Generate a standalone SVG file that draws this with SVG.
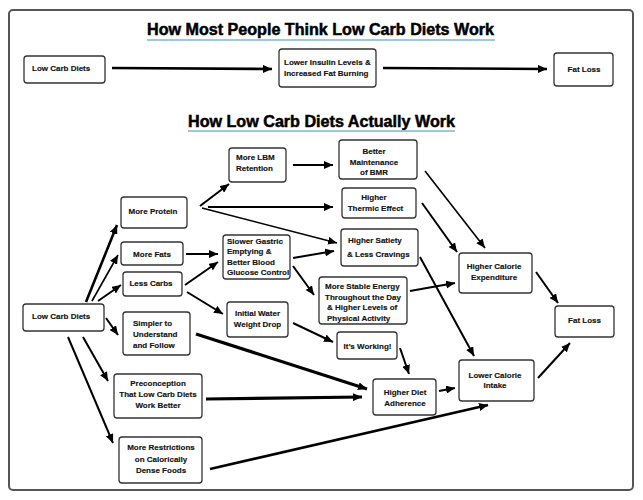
<svg xmlns="http://www.w3.org/2000/svg" width="643" height="500" viewBox="0 0 643 500">
<style>
.bx{fill:#fff;stroke:#333;stroke-width:1.3}
.t{font-family:"Liberation Sans",Arial,sans-serif;font-weight:bold;font-size:8px;fill:#111;stroke:#111;stroke-width:0.15}
.c{text-anchor:middle}
.h{font-family:"Liberation Sans",Arial,sans-serif;font-weight:bold;font-size:16px;fill:#000;stroke:#000;stroke-width:0.5}
.ul{stroke:#7fb5c9;stroke-width:1.5}
#conn line{stroke:#000;stroke-width:2;marker-end:url(#ah)}
#conn line.k{stroke-width:2.6}
#conn line.kk{stroke-width:3.2}
#conn line.n{stroke-width:1.6}
</style>
<defs>
<marker id="ah" markerUnits="userSpaceOnUse" markerWidth="10" markerHeight="8" refX="9" refY="4" orient="auto">
<path d="M0,0 L9,4 L0,8 Z" fill="#000"/>
</marker>
</defs>
<rect x="0" y="0" width="643" height="500" fill="#fff"/>
<rect x="9" y="10" width="624" height="480" rx="4" fill="#fff" stroke="#555" stroke-width="2"/>

<text class="h" x="147" y="35" textLength="347" lengthAdjust="spacingAndGlyphs">How Most People Think Low Carb Diets Work</text>
<line class="ul" x1="147" y1="40" x2="495" y2="40"/>
<text class="h" x="188" y="127" textLength="267" lengthAdjust="spacingAndGlyphs">How Low Carb Diets Actually Work</text>
<line class="ul" x1="188" y1="131" x2="455" y2="131"/>

<g id="conn">
<line class="k" x1="112" y1="68" x2="272" y2="69"/>
<line class="k" x1="383" y1="68" x2="547" y2="69"/>
<line class="k" x1="86" y1="302" x2="117" y2="225"/>
<line class="n" x1="92" y1="301" x2="118" y2="255"/>
<line x1="98" y1="301" x2="121" y2="285"/>
<line x1="106" y1="318" x2="118" y2="335"/>
<line x1="83" y1="337" x2="108" y2="381"/>
<line x1="68" y1="337" x2="113" y2="443"/>
<line x1="200" y1="206" x2="229" y2="184"/>
<line x1="208" y1="207" x2="333" y2="207"/>
<line class="n" x1="202" y1="208" x2="337" y2="243"/>
<line x1="186" y1="254" x2="218" y2="254"/>
<line x1="185" y1="285" x2="218" y2="262"/>
<line x1="187" y1="292" x2="223" y2="314"/>
<line x1="293" y1="165" x2="333" y2="165"/>
<line x1="293" y1="258" x2="334" y2="251"/>
<line x1="293" y1="266" x2="314" y2="295"/>
<line class="n" x1="425" y1="171" x2="485" y2="248"/>
<line x1="422" y1="203" x2="457" y2="252"/>
<line x1="420" y1="257" x2="474" y2="356"/>
<line x1="410" y1="291" x2="455" y2="283"/>
<line x1="536" y1="272" x2="558" y2="303"/>
<line x1="293" y1="323" x2="333" y2="342"/>
<line x1="400" y1="348" x2="409" y2="374"/>
<line class="kk" x1="196" y1="334" x2="367" y2="389"/>
<line class="kk" x1="206" y1="399" x2="362" y2="397"/>
<line class="k" x1="210" y1="469" x2="488" y2="405"/>
<line x1="439" y1="391" x2="455" y2="388"/>
<line x1="538" y1="378" x2="570" y2="343"/>
</g>

<g id="top-lcd"><rect class="bx" x="24" y="56" width="81" height="27" rx="3"/><text class="t" x="32" y="71">Low Carb Diets</text></g>
<g id="top-insulin"><rect class="bx" x="279" y="49" width="97" height="38" rx="3"/><text class="t" x="284" y="65">Lower Insulin Levels &amp;</text><text class="t" x="284" y="76">Increased Fat Burning</text></g>
<g id="top-fatloss"><rect class="bx" x="554" y="53" width="59" height="33" rx="3"/><text class="t c" x="584" y="72">Fat Loss</text></g>

<g id="lcd"><rect class="bx" x="23" y="304" width="81" height="27" rx="3"/><text class="t" x="32" y="319">Low Carb Diets</text></g>
<g id="protein"><rect class="bx" x="121" y="197" width="66" height="31" rx="3"/><text class="t c" x="153" y="214">More Protein</text></g>
<g id="fats"><rect class="bx" x="121" y="242" width="62" height="23" rx="3"/><text class="t c" x="152" y="257">More Fats</text></g>
<g id="carbs"><rect class="bx" x="123" y="272" width="59" height="24" rx="3"/><text class="t c" x="151" y="286">Less Carbs</text></g>
<g id="simpler"><rect class="bx" x="123" y="312" width="67" height="43" rx="3"/><text class="t" x="133" y="326">Simpler to</text><text class="t" x="133" y="337">Understand</text><text class="t" x="133" y="348">and Follow</text></g>
<g id="preconception"><rect class="bx" x="114" y="374" width="88" height="44" rx="3"/><text class="t c" x="158" y="386">Preconception</text><text class="t c" x="158" y="397">That Low Carb Diets</text><text class="t c" x="158" y="408">Work Better</text></g>
<g id="restrictions"><rect class="bx" x="119" y="437" width="83" height="46" rx="3"/><text class="t c" x="161" y="450">More Restrictions</text><text class="t c" x="161" y="462">on Calorically</text><text class="t c" x="161" y="473">Dense Foods</text></g>
<g id="lbm"><rect class="bx" x="229" y="148" width="57" height="34" rx="3"/><text class="t" x="236" y="160">More LBM</text><text class="t" x="236" y="171">Retention</text></g>
<g id="gastric"><rect class="bx" x="223" y="235" width="67" height="44" rx="3"/><text class="t" x="227" y="243.5">Slower Gastric</text><text class="t" x="227" y="254">Emptying &amp;</text><text class="t" x="227" y="264.5">Better Blood</text><text class="t" x="227" y="275">Glucose Control</text></g>
<g id="water"><rect class="bx" x="227" y="302" width="61" height="35" rx="3"/><text class="t c" x="257.5" y="316">Initial Water</text><text class="t c" x="257.5" y="326.5">Weight Drop</text></g>
<g id="bmr"><rect class="bx" x="339" y="140" width="78" height="39" rx="3"/><text class="t c" x="374" y="154">Better</text><text class="t c" x="374" y="164.5">Maintenance</text><text class="t c" x="374" y="175">of BMR</text></g>
<g id="thermic"><rect class="bx" x="342" y="188" width="74" height="30" rx="3"/><text class="t c" x="374" y="200">Higher</text><text class="t c" x="375.5" y="210.5">Thermic Effect</text></g>
<g id="satiety"><rect class="bx" x="341" y="229" width="77" height="37" rx="3"/><text class="t" x="348" y="243">Higher Satiety</text><text class="t" x="347" y="257">&amp; Less Cravings</text></g>
<g id="stable"><rect class="bx" x="319" y="277" width="88" height="47" rx="3"/><text class="t" x="325" y="289">More Stable Energy</text><text class="t" x="325" y="299.5">Throughout the Day</text><text class="t" x="327" y="310">&amp; Higher Levels of</text><text class="t" x="327" y="320.5">Physical Activity</text></g>
<g id="working"><rect class="bx" x="337" y="332" width="60" height="27" rx="3"/><text class="t c" x="367.5" y="349">It’s Working!</text></g>
<g id="adherence"><rect class="bx" x="373" y="379" width="63" height="36" rx="3"/><text class="t c" x="405" y="395">Higher Diet</text><text class="t c" x="405" y="406">Adherence</text></g>
<g id="expenditure"><rect class="bx" x="459" y="253" width="73" height="40" rx="3"/><text class="t c" x="494" y="269">Higher Calorie</text><text class="t c" x="494" y="280">Expenditure</text></g>
<g id="intake"><rect class="bx" x="459" y="360" width="75" height="41" rx="3"/><text class="t c" x="495" y="378">Lower Calorie</text><text class="t c" x="495" y="388">Intake</text></g>
<g id="fatloss"><rect class="bx" x="555" y="306" width="59" height="31" rx="3"/><text class="t c" x="584.5" y="323">Fat Loss</text></g>
</svg>
